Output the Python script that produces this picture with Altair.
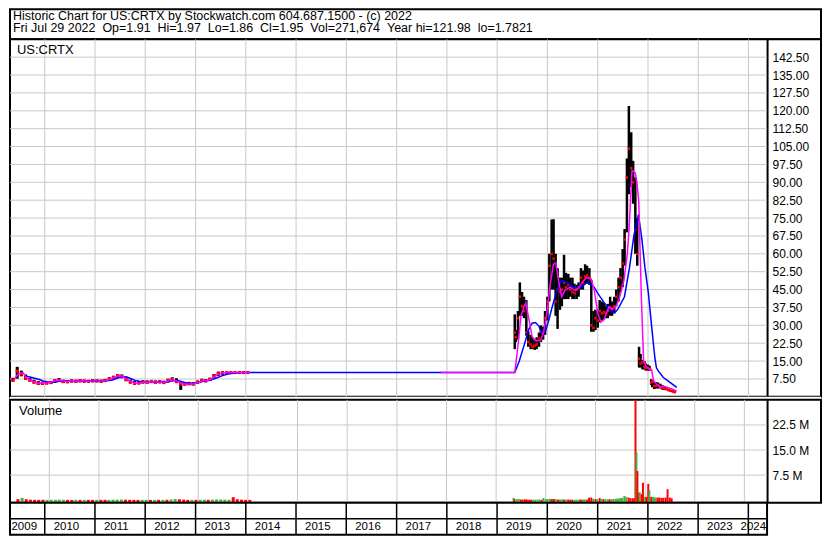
import altair as alt
import pandas as pd

# ---------------- texts ----------------
TITLE_LINE_1 = "Historic Chart for US:CRTX by Stockwatch.com 604.687.1500 - (c) 2022"
TITLE_LINE_2 = ("Fri Jul 29 2022 \u00a0Op=1.91 \u00a0Hi=1.97 \u00a0Lo=1.86 \u00a0Cl=1.95 "
                "\u00a0Vol=271,674 \u00a0Year hi=121.98 \u00a0lo=1.7821")
SYMBOL = "US:CRTX"
VOLUME_TITLE = "Volume"

# ---------------- old listing (monthly bars) ----------------
old_dates = [
    "2009-05-15", "2009-06-15", "2009-07-15", "2009-08-15", "2009-09-15", "2009-10-15", "2009-11-15", "2009-12-15",
    "2010-01-15", "2010-02-15", "2010-03-15", "2010-04-15", "2010-05-15", "2010-06-15", "2010-07-15", "2010-08-15", "2010-09-15", "2010-10-15", "2010-11-15", "2010-12-15",
    "2011-01-15", "2011-02-15", "2011-03-15", "2011-04-15", "2011-05-15", "2011-06-15", "2011-07-15", "2011-08-15", "2011-09-15", "2011-10-15", "2011-11-15", "2011-12-15",
    "2012-01-15", "2012-02-15", "2012-03-15", "2012-04-15", "2012-05-15", "2012-06-15", "2012-07-15", "2012-08-15", "2012-09-15", "2012-10-15", "2012-11-15", "2012-12-15",
    "2013-01-15", "2013-02-15", "2013-03-15", "2013-04-15", "2013-05-15", "2013-06-15", "2013-07-15", "2013-08-15", "2013-09-15", "2013-10-15", "2013-11-15", "2013-12-15",
    "2014-01-15",
]
old_high = [
    8.0, 12.6, 11.0, 9.4, 8.0, 7.2, 6.6, 6.4,
    6.4, 6.6, 7.4, 7.9, 7.2, 7.0, 7.3, 7.2, 7.4, 7.2, 7.1, 7.4,
    7.3, 7.2, 7.5, 8.2, 8.8, 9.6, 9.4, 8.4, 7.2, 6.6, 6.8, 7.0,
    6.9, 7.1, 6.9, 7.0, 6.8, 7.6, 8.2, 7.8, 6.6, 6.2, 6.3, 6.2,
    6.8, 7.6, 7.4, 8.0, 9.6, 10.6, 10.8, 10.7, 10.5, 10.4, 10.3, 10.3,
    10.3,
]
old_low = [
    6.4, 7.6, 8.6, 7.2, 6.4, 5.6, 5.0, 5.0,
    5.2, 5.4, 5.8, 6.2, 5.8, 5.8, 6.0, 5.9, 6.1, 6.0, 5.9, 6.1,
    6.1, 5.9, 6.2, 6.8, 7.4, 8.0, 7.8, 6.6, 5.6, 5.0, 5.2, 5.6,
    5.6, 5.8, 5.6, 5.7, 5.6, 6.0, 6.6, 5.8, 2.9, 4.8, 4.9, 4.8,
    5.4, 6.2, 6.1, 6.6, 7.6, 8.8, 9.2, 9.6, 9.9, 10.0, 10.1, 10.1,
    10.1,
]
old_close = [
    7.0, 10.8, 9.6, 7.8, 7.0, 6.2, 5.6, 5.7,
    5.8, 6.0, 6.8, 7.0, 6.4, 6.3, 6.6, 6.5, 6.8, 6.6, 6.5, 6.8,
    6.7, 6.5, 6.9, 7.5, 8.2, 8.9, 8.5, 7.2, 6.2, 5.6, 5.9, 6.2,
    6.1, 6.4, 6.1, 6.3, 6.0, 6.9, 7.3, 6.4, 5.4, 5.3, 5.5, 5.4,
    6.2, 6.9, 6.7, 7.4, 8.8, 9.8, 10.1, 10.2, 10.2, 10.2, 10.2, 10.2,
    10.2,
]
old_vol = [  # millions
    0.30, 0.70, 0.25, 0.15, 0.12, 0.10, 0.12, 0.10,
    0.10, 0.12, 0.15, 0.12, 0.10, 0.10, 0.12, 0.10, 0.10, 0.12, 0.10, 0.10,
    0.10, 0.12, 0.10, 0.15, 0.15, 0.20, 0.15, 0.12, 0.10, 0.10, 0.12, 0.10,
    0.10, 0.10, 0.12, 0.10, 0.12, 0.20, 0.35, 0.30, 0.15, 0.10, 0.10, 0.10,
    0.12, 0.15, 0.12, 0.15, 0.20, 0.20, 0.15, 0.15, 0.90, 0.30, 0.15, 0.10,
    0.10,
]

# ---------------- CRTX listing (half-month bars) ----------------
new_dates = [
    "2019-05-09", "2019-05-16", "2019-06-01", "2019-06-15", "2019-07-01", "2019-07-15", "2019-08-01", "2019-08-15", "2019-09-01", "2019-09-15",
    "2019-10-01", "2019-10-15", "2019-11-01", "2019-11-15", "2019-12-01", "2019-12-15", "2020-01-01", "2020-01-15", "2020-02-01", "2020-02-15",
    "2020-03-01", "2020-03-15", "2020-04-01", "2020-04-15", "2020-05-01", "2020-05-15", "2020-06-01", "2020-06-15", "2020-07-01", "2020-07-15",
    "2020-08-01", "2020-08-15", "2020-09-01", "2020-09-15", "2020-10-01", "2020-10-15", "2020-11-01", "2020-11-15", "2020-12-01", "2020-12-15",
    "2021-01-01", "2021-01-15", "2021-02-01", "2021-02-15", "2021-03-01", "2021-03-15", "2021-04-01", "2021-04-15", "2021-05-01", "2021-05-15",
    "2021-06-01", "2021-06-15", "2021-07-01", "2021-07-15", "2021-08-01", "2021-08-15", "2021-09-01", "2021-09-15", "2021-10-01", "2021-10-15",
    "2021-10-28", "2021-11-08", "2021-11-22", "2021-12-06", "2021-12-16", "2022-01-01", "2022-01-12", "2022-01-24", "2022-02-01", "2022-02-15",
    "2022-03-01", "2022-03-15", "2022-04-01", "2022-04-15", "2022-05-01", "2022-05-15", "2022-06-01", "2022-06-15", "2022-07-01", "2022-07-15",
]
new_high = [
    34.6, 28.0, 36.0, 48.0, 44.0, 42.0, 40.6, 27.5, 26.0, 25.0,
    24.0, 25.0, 27.0, 30.0, 29.5, 36.0, 42.0, 60.0, 74.4, 74.5,
    60.0, 54.0, 50.0, 50.0, 59.6, 52.0, 51.6, 50.0, 50.0, 47.5,
    47.0, 48.0, 54.0, 53.0, 55.6, 55.0, 54.0, 49.0, 36.0, 36.6,
    36.0, 40.6, 40.0, 39.4, 38.0, 39.0, 42.0, 40.0, 42.0, 45.0,
    50.0, 54.0, 62.0, 70.4, 100.0, 122.0, 111.0, 99.0, 92.0, 75.0,
    21.0, 18.0, 15.5, 15.0, 14.0, 13.5, 13.0, 7.4, 7.0, 6.0,
    6.2, 6.0, 5.5, 5.0, 4.5, 4.0, 3.3, 3.0, 2.8, 2.3,
]
new_low = [
    20.0, 23.0, 24.0, 34.0, 34.0, 33.0, 25.7, 21.0, 20.0, 20.0,
    19.7, 20.0, 21.0, 23.0, 24.0, 26.0, 32.0, 40.0, 45.0, 45.0,
    34.0, 28.5, 36.5, 38.0, 41.0, 41.0, 41.0, 42.0, 41.0, 41.0,
    41.0, 42.0, 45.0, 45.0, 47.5, 47.5, 47.0, 27.3, 27.3, 28.0,
    29.0, 31.3, 32.0, 32.5, 33.0, 33.0, 34.0, 34.0, 35.0, 38.0,
    40.0, 44.0, 46.0, 55.0, 69.0, 85.0, 88.0, 81.0, 60.0, 55.0,
    12.3, 12.3, 11.5, 11.5, 11.0, 11.0, 11.0, 5.0, 4.0, 3.3,
    3.5, 3.5, 3.5, 3.0, 2.9, 2.9, 2.4, 2.1, 1.9, 1.78,
]
new_close = [
    27.0, 25.0, 33.0, 42.0, 38.0, 36.0, 27.0, 23.0, 22.0, 21.0,
    21.5, 22.0, 24.5, 27.0, 26.5, 33.0, 40.0, 55.0, 60.0, 58.0,
    40.0, 45.0, 44.0, 45.0, 48.0, 46.0, 47.0, 45.0, 44.0, 43.5,
    45.0, 46.0, 50.0, 48.0, 50.5, 51.0, 50.0, 30.0, 29.0, 33.0,
    32.0, 36.0, 35.0, 35.5, 35.0, 36.0, 37.5, 37.0, 38.0, 42.0,
    46.0, 50.0, 56.0, 66.0, 92.0, 104.0, 96.0, 90.0, 70.0, 60.0,
    16.0, 14.0, 14.5, 12.5, 12.0, 12.3, 11.5, 6.0, 6.4, 4.5,
    4.6, 5.0, 4.2, 3.8, 3.3, 3.2, 2.8, 2.5, 2.2, 1.95,
]
new_vol = [  # millions
    0.70, 0.30, 0.30, 0.40, 0.20, 0.20, 0.25, 0.20, 0.15, 0.15,
    0.15, 0.15, 0.20, 0.20, 0.15, 0.66, 0.30, 0.35, 0.40, 0.30,
    0.35, 0.30, 0.20, 0.20, 0.25, 0.20, 0.20, 0.20, 0.15, 0.15,
    0.15, 0.15, 0.20, 0.20, 0.20, 0.20, 0.20, 0.75, 0.80, 0.40,
    0.30, 0.30, 0.66, 0.30, 0.30, 0.30, 0.30, 0.30, 0.30, 0.35,
    0.40, 0.50, 0.60, 0.70, 1.30, 1.00, 0.80, 0.60, 0.60, 0.60,
    2.00, 2.20, 2.40, 1.80, 5.20, 1.00, 1.00, 4.90, 3.00, 1.00,
    1.00, 0.80, 0.80, 0.80, 0.70, 0.70, 0.80, 3.30, 0.80, 0.60,
]

# volume spike around the October 2021 collapse
spike_dates = ["2021-10-22", "2021-10-29", "2021-11-05"]
spike_vol = [38.0, 14.3, 8.7]
spike_dir = ["down", "up", "down"]

# ---------------- moving averages ----------------
short_ma_dates = [
    "2009-05-25", "2009-06-20", "2009-07-27", "2009-08-20", "2009-09-20", "2009-10-20", "2009-11-20", "2009-12-20",
    "2010-01-20", "2010-02-20", "2010-03-20", "2010-04-20", "2010-05-20", "2010-06-20", "2010-07-20", "2010-08-20", "2010-09-20", "2010-10-20", "2010-11-20", "2010-12-20",
    "2011-01-20", "2011-02-20", "2011-03-20", "2011-04-20", "2011-05-20", "2011-06-20", "2011-07-20", "2011-08-20", "2011-09-20", "2011-10-20", "2011-11-20", "2011-12-20",
    "2012-01-20", "2012-02-20", "2012-03-20", "2012-04-20", "2012-05-20", "2012-06-20", "2012-07-20", "2012-08-20", "2012-09-20", "2012-10-20", "2012-11-20", "2012-12-20",
    "2013-01-20", "2013-02-20", "2013-03-20", "2013-04-20", "2013-05-20", "2013-06-20", "2013-07-20", "2013-08-20", "2013-09-20", "2014-02-01",
    "2017-11-20", "2019-05-09", "2019-05-30", "2019-06-23", "2019-07-16", "2019-07-28", "2019-08-20", "2019-09-12", "2019-10-06", "2019-11-12",
    "2019-12-05", "2019-12-29", "2020-01-22", "2020-02-14", "2020-03-02", "2020-03-22", "2020-04-14", "2020-05-08", "2020-06-13", "2020-07-18",
    "2020-08-11", "2020-09-04", "2020-10-09", "2020-11-14", "2020-12-07", "2020-12-31", "2021-01-24", "2021-02-17", "2021-03-24", "2021-04-17",
    "2021-05-11", "2021-06-04", "2021-07-10", "2021-08-03", "2021-08-15", "2021-09-07", "2021-09-30", "2021-10-12", "2021-10-26", "2021-11-05",
    "2021-11-15", "2021-11-24", "2021-11-30", "2021-12-12", "2021-12-22", "2022-01-27", "2022-02-09", "2022-03-03", "2022-03-28", "2022-04-21",
    "2022-05-14", "2022-07-02", "2022-07-29",
]
short_ma_vals = [
    7.4, 9.5, 10.2, 8.0, 7.0, 6.2, 5.7, 5.8,
    5.9, 6.2, 6.8, 7.0, 6.5, 6.4, 6.6, 6.5, 6.7, 6.6, 6.5, 6.7,
    6.7, 6.5, 6.8, 7.4, 8.1, 8.8, 8.6, 7.4, 6.4, 5.7, 5.8, 6.1,
    6.1, 6.3, 6.2, 6.2, 6.1, 6.7, 7.2, 6.6, 5.6, 5.3, 5.4, 5.4,
    6.0, 6.7, 6.8, 7.3, 8.5, 9.6, 10.0, 10.2, 10.2, 10.2,
    10.2, 10.2, 20.4, 33.9, 38.0, 39.4, 32.5, 25.2, 23.5, 23.5,
    27.3, 35.4, 47.5, 55.6, 56.2, 48.8, 42.0, 44.7, 46.0, 44.7,
    45.5, 47.5, 50.0, 49.5, 44.7, 35.4, 31.3, 32.5, 37.9, 36.6,
    37.9, 40.7, 48.8, 59.6, 69.0, 95.0, 94.0, 90.0, 82.0, 60.0,
    40.0, 25.0, 15.0, 13.5, 12.3, 11.5, 7.0, 5.4, 4.1, 4.5,
    4.1, 3.1, 2.4,
]
# the short average has a gap between the two listings (segment 0 / segment 1)
short_ma_seg = [0] * 54 + [1] * 53

long_ma_dates = [
    "2009-08-19", "2009-09-15", "2009-10-20", "2009-11-22", "2009-12-20", "2010-02-01", "2010-03-15", "2010-05-01", "2010-06-15", "2010-08-01",
    "2010-09-15", "2010-11-01", "2010-12-15", "2011-02-01", "2011-03-15", "2011-05-01", "2011-06-15", "2011-07-20", "2011-08-20", "2011-09-20",
    "2011-10-20", "2011-12-01", "2012-01-15", "2012-03-01", "2012-04-15", "2012-06-01", "2012-07-20", "2012-09-01", "2012-10-15", "2012-12-01",
    "2013-01-15", "2013-03-01", "2013-04-15", "2013-06-01", "2013-07-15", "2013-09-01", "2013-10-15", "2013-12-01", "2019-05-09", "2019-06-11",
    "2019-07-16", "2019-08-20", "2019-09-12", "2019-10-06", "2019-10-30", "2019-11-22", "2019-12-17", "2020-01-10", "2020-02-03", "2020-02-26",
    "2020-03-21", "2020-04-11", "2020-05-09", "2020-07-04", "2020-08-29", "2020-10-18", "2020-12-06", "2020-12-31", "2021-02-18", "2021-04-06",
    "2021-05-04", "2021-05-25", "2021-07-14", "2021-08-19", "2021-09-21", "2021-10-24", "2021-11-17", "2021-12-10", "2022-01-04", "2022-01-27",
    "2022-02-20", "2022-03-03", "2022-03-15", "2022-04-21", "2022-06-07", "2022-07-29",
]
long_ma_vals = [
    8.7, 8.3, 7.8, 7.3, 6.7, 6.1, 6.2, 6.6, 6.6, 6.5,
    6.6, 6.6, 6.6, 6.7, 6.7, 7.0, 7.9, 8.5, 8.3, 7.6,
    6.9, 6.2, 6.1, 6.3, 6.2, 6.2, 6.7, 6.8, 6.0, 5.6,
    5.8, 6.6, 7.0, 7.9, 8.9, 9.7, 10.0, 10.2, 10.2, 15.0,
    21.7, 28.5, 30.9, 31.2, 29.8, 26.5, 27.3, 31.9, 37.3, 42.0,
    46.0, 48.8, 48.5, 46.0, 46.0, 48.0, 46.0, 43.5, 39.4, 35.8,
    35.3, 36.6, 42.0, 54.0, 67.8, 76.5, 66.4, 54.2, 43.5, 29.8,
    16.3, 12.3, 11.0, 8.2, 6.2, 4.0,
]

# ---------------- axes ----------------
year_starts = ["2010-01-01", "2011-01-01", "2012-01-01", "2013-01-01", "2014-01-01", "2015-01-01", "2016-01-01", "2017-01-01",
               "2018-01-01", "2019-01-01", "2020-01-01", "2021-01-01", "2022-01-01", "2023-01-01", "2024-01-01"]
year_labels = ["2009", "2010", "2011", "2012", "2013", "2014", "2015", "2016", "2017", "2018", "2019", "2020",
               "2021", "2022", "2023", "2024"]
price_ticks = [7.5, 15.0, 22.5, 30.0, 37.5, 45.0, 52.5, 60.0, 67.5, 75.0, 82.5, 90.0, 97.5, 105.0, 112.5,
               120.0, 127.5, 135.0, 142.5]
vol_ticks = [7.5, 15.0, 22.5]
VOL_FLOOR = -0.75

# ---------------- styling / layout ----------------
FONT = "Liberation Sans"
GRID = "#c8c8c8"
RED = "#ff0000"
GREEN = "#44b044"
BLUE = "#0000ff"
MAGENTA = "#ff00ff"

W, WD = 812, 758
H_HEAD, H_PRICE, H_GAP, H_VOL, H_BOT = 30, 358, 3, 103, 32
YEAR_FS = 11.5

START_STR = "2009-04-23T12:00:00"
END_DATA_STR = "2024-05-16"
X_START = alt.DateTime(year=2009, month=4, date=23, hours=12)
X_END_FULL = alt.DateTime(year=2025, month=6, date=11)
X_END_DATA = alt.DateTime(year=2024, month=5, date=16)
xs_full = alt.Scale(domain=[X_START, X_END_FULL])
xs_data = alt.Scale(domain=[X_START, X_END_DATA])
ys = alt.Scale(domain=[0, 150], nice=False)
vs = alt.Scale(domain=[VOL_FLOOR, 30.0], nice=False, zero=False, clamp=True)

price_axis = alt.Axis(orient="right", offset=WD - W, values=price_ticks, format=".2f", grid=False,
                      ticks=False, domain=True, domainColor="black", domainWidth=2, labelPadding=5,
                      labelFont=FONT, labelFontSize=12, labelColor="black", title=None,
                      labelOverlap=False, labelFlush=False)
vol_axis = alt.Axis(orient="right", offset=WD - W, values=vol_ticks,
                    labelExpr="format(datum.value, '.1f') + ' M'", grid=False, ticks=False,
                    domain=True, domainColor="black", domainWidth=2, labelPadding=5,
                    labelFont=FONT, labelFontSize=12, labelColor="black", title=None,
                    labelOverlap=False, labelFlush=False)

# ---------------- data frames ----------------
all_close = old_close + new_close
all_dir = ["up" if i > 0 and all_close[i] > all_close[i - 1] else "down" for i in range(len(all_close))]

old_df = pd.DataFrame({"date": pd.to_datetime(old_dates), "high": old_high, "low": old_low,
                       "close": old_close, "vol": old_vol, "dir": all_dir[:len(old_close)]})
new_df = pd.DataFrame({"date": pd.to_datetime(new_dates), "high": new_high, "low": new_low,
                       "close": new_close, "vol": new_vol, "dir": all_dir[len(old_close):]})
old_df["base"] = VOL_FLOOR
new_df["base"] = VOL_FLOOR
spike_df = pd.DataFrame({"date": pd.to_datetime(spike_dates), "vol": spike_vol, "dir": spike_dir})
spike_df["base"] = VOL_FLOOR

short_df = pd.DataFrame({"date": pd.to_datetime(short_ma_dates), "v": short_ma_vals, "seg": short_ma_seg})
long_df = pd.DataFrame({"date": pd.to_datetime(long_ma_dates), "v": long_ma_vals})
years_df = pd.DataFrame({"d": pd.to_datetime(year_starts)})
pgrid_df = pd.DataFrame({"v": price_ticks})
vgrid_df = pd.DataFrame({"v": vol_ticks})

X = lambda f: alt.X(f, scale=xs_full, axis=None)
YP = lambda f: alt.Y(f, scale=ys, axis=price_axis)
YV = lambda f: alt.Y(f, scale=vs, axis=vol_axis)
color_dir = alt.Color("dir:N", scale=alt.Scale(domain=["up", "down"], range=[GREEN, RED]), legend=None)


def one_text(txt, x, y, size, font=FONT):
    return alt.Chart(pd.DataFrame({"t": [txt]})).mark_text(
        align="left", baseline="middle", font=font, fontSize=size, color="black"
    ).encode(x=alt.value(x), y=alt.value(y), text="t:N")


# ---------------- header ----------------
header = alt.layer(
    one_text(TITLE_LINE_1, 3, 6.5, 12.5),
    one_text(TITLE_LINE_2, 3, 19, 12.5),
).properties(width=W, height=H_HEAD)

# ---------------- price panel ----------------
p_vgrid = alt.Chart(years_df).mark_rule(color=GRID, strokeWidth=1).encode(
    x=X("d:T"), y=alt.value(0), y2=alt.value(H_PRICE))
p_hgrid = alt.Chart(pgrid_df).mark_rule(color=GRID, strokeWidth=1).encode(
    y=YP("v:Q"), x=alt.value(0), x2=alt.value(WD))
old_bars = alt.Chart(old_df).mark_rule(color="black", strokeWidth=3).encode(
    x=X("date:T"), y=YP("low:Q"), y2="high:Q")
new_bars = alt.Chart(new_df).mark_rule(color="black", strokeWidth=2.5).encode(
    x=X("date:T"), y=YP("low:Q"), y2="high:Q")
old_red = alt.Chart(old_df).mark_square(color=RED, size=10, opacity=1).encode(
    x=X("date:T"), y=YP("close:Q"))
new_red = alt.Chart(new_df).mark_square(color=RED, size=6, opacity=1).encode(
    x=X("date:T"), y=YP("close:Q"))
long_line = alt.Chart(long_df).mark_line(color=BLUE, strokeWidth=1.5).encode(
    x=X("date:T"), y=YP("v:Q"))
short_line = alt.Chart(short_df).mark_line(color=MAGENTA, strokeWidth=1.5).encode(
    x=X("date:T"), y=YP("v:Q"), detail="seg:N")

price = alt.layer(
    p_vgrid, p_hgrid, old_bars, new_bars, old_red, new_red, long_line, short_line,
    one_text(SYMBOL, 7, 10.5, 13),
).properties(width=W, height=H_PRICE)

# thin white gap between the price and volume frames (gives the double rule)
gap = one_text("", 0, 0, 1).properties(
    width=W, height=H_GAP, view=alt.ViewBackground(stroke="transparent", fill="white"))

# ---------------- volume panel ----------------
v_vgrid = alt.Chart(years_df).mark_rule(color=GRID, strokeWidth=1).encode(
    x=X("d:T"), y=alt.value(0), y2=alt.value(H_VOL))
v_hgrid = alt.Chart(vgrid_df).mark_rule(color=GRID, strokeWidth=1).encode(
    y=YV("v:Q"), x=alt.value(0), x2=alt.value(WD))
vol_old = alt.Chart(old_df).mark_bar(size=3).encode(
    x=X("date:T"), y=YV("vol:Q"), y2="base:Q", color=color_dir)
vol_new = alt.Chart(new_df).mark_bar(size=2).encode(
    x=X("date:T"), y=YV("vol:Q"), y2="base:Q", color=color_dir)
vol_spk = alt.Chart(spike_df).mark_bar(size=2).encode(
    x=X("date:T"), y=YV("vol:Q"), y2="base:Q", color=color_dir)

volume = alt.layer(
    v_vgrid, v_hgrid, vol_old, vol_new, vol_spk,
    one_text(VOLUME_TITLE, 9, 11, 13),
).properties(width=W, height=H_VOL)

# ---------------- year strip ----------------
XB = lambda f: alt.X(f, scale=xs_data, axis=None)
b_sep = alt.Chart(years_df).mark_rule(color="black", strokeWidth=1.5).encode(
    x=XB("d:T"), y=alt.value(0), y2=alt.value(H_BOT))
b_mid = alt.Chart(pd.DataFrame({"k": [0]})).mark_rule(color="black", strokeWidth=1.5).encode(
    x=alt.value(0), x2=alt.value(WD), y=alt.value(16))
lab_mid_df = pd.DataFrame({"d": pd.to_datetime(year_starts[:-1]), "t": year_labels[1:-1]})
lab_first_df = pd.DataFrame({"d": pd.to_datetime([START_STR]), "t": [year_labels[0]]})
lab_last_df = pd.DataFrame({"d": pd.to_datetime([END_DATA_STR]), "t": [year_labels[-1]]})
lab_mid = alt.Chart(lab_mid_df).mark_text(align="left", baseline="middle", dx=9, font=FONT,
                                          fontSize=YEAR_FS, color="black").encode(
    x=XB("d:T"), y=alt.value(24.5), text="t:N")
lab_first = alt.Chart(lab_first_df).mark_text(align="left", baseline="middle", dx=1.5, font=FONT,
                                              fontSize=YEAR_FS, color="black").encode(
    x=XB("d:T"), y=alt.value(24.5), text="t:N")
lab_last = alt.Chart(lab_last_df).mark_text(align="right", baseline="middle", dx=-1, font=FONT,
                                            fontSize=YEAR_FS, color="black").encode(
    x=XB("d:T"), y=alt.value(24.5), text="t:N")

bottom = alt.layer(b_sep, b_mid, lab_mid, lab_first, lab_last).properties(width=WD, height=H_BOT)

# ---------------- assemble ----------------
chart = alt.vconcat(header, price, gap, volume, bottom, spacing=0, bounds="flush").resolve_scale(
    x="independent", y="independent"
).properties(padding=0, background="white").configure_view(
    stroke="black", strokeWidth=2, fill="white"
)

chart.save("out.html", embed_options={"renderer": "svg", "actions": False})
